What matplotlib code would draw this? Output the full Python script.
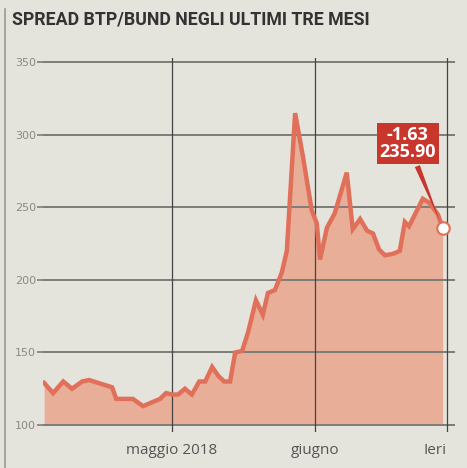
import matplotlib
matplotlib.use('Agg')
import matplotlib.pyplot as plt

# giorni dall'1 aprile 2018 (maggio = 30, giugno = 61)
days = [2.25, 4.2, 6.4, 8.3, 10.5, 12.0, 14.0, 17.0, 17.9, 21.5, 23.7, 25.9, 27.4, 28.7,
        30.0, 31.3, 32.8, 34.3, 35.9, 37.2, 38.7, 40.0, 41.3, 42.6, 43.7, 45.2, 46.5, 48.2,
        49.7, 50.8, 52.3, 53.8, 54.9, 56.7, 58.4, 60.3, 61.4, 62.1, 63.6, 65.3, 67.9, 69.2,
        70.8, 72.3, 73.6, 74.9, 76.2, 77.9, 79.4, 80.5, 81.4, 84.4, 85.9, 87.7, 88.7]
spread = [129, 122, 130, 125, 130, 131, 129, 126, 118, 118, 113, 116, 118, 122,
          121, 121, 125, 121, 130, 130, 140, 134, 130, 130, 150, 151, 164, 186,
          176, 191, 193, 205, 220, 315, 285, 248, 239, 214, 236, 246, 274, 235,
          242, 234, 232, 221, 217, 218, 220, 240, 237, 256, 253, 245, 235.9]

yticks = [100, 150, 200, 250, 300, 350]
xticks = [30, 61, 89.6]
xlabels = ['maggio 2018', 'giugno', 'Ieri']
variation = '-1.63'

bg = '#e4e3dc'
line_col = '#e0705a'
fill_col = '#e8ae98'

fig = plt.figure(figsize=(4.67, 4.68), dpi=100, facecolor=bg)
ax = fig.add_axes([0.092, 0.077, 0.882, 0.799])
ax.set_facecolor(bg)

ax.fill_between(days, spread, 100, color=fill_col, lw=0, zorder=1)
for y in yticks:
    ax.axhline(y, color='#7d7d78', lw=1.4, zorder=2)
for x in xticks:
    ax.axvline(x, color='#444444', lw=0.9, zorder=2)
ax.plot(days, spread, color=line_col, lw=3.2, solid_joinstyle='miter', zorder=3)
ax.plot(days[-1], spread[-1], 'o', ms=9, mfc='white', mec=line_col, mew=1.5, zorder=5)

ax.annotate(f'{variation}\n{spread[-1]:.2f}', xy=(days[-1], spread[-1]),
            xytext=(-25, 61), textcoords='offset points', ha='center', va='center',
            color='white', fontsize=13, fontweight='bold', family='Open Sans',
            linespacing=0.95,
            bbox=dict(boxstyle='square,pad=0.15', fc='#c8362c', ec='none'),
            arrowprops=dict(arrowstyle='wedge,tail_width=0.3,shrink_factor=0.5',
                            fc='#c8362c', ec='none', shrinkB=5), zorder=6)

ax.set_xlim(2.0, 91.35)
ax.set_ylim(95.2, 353)
ax.set_yticks(yticks)
ax.set_xticks(xticks)
ax.set_xticklabels(xlabels)
for s in ax.spines.values():
    s.set_visible(False)
ax.tick_params(axis='y', length=4, width=1.2, color='#7d7d78', labelcolor='#8a8a85',
               labelsize=8, pad=1)
ax.tick_params(axis='x', length=0, labelcolor='#555555', labelsize=11, pad=8)
for lab in ax.get_xticklabels():
    lab.set_family('Open Sans')
ax.get_xticklabels()[-1].set_ha('right')

fig.text(0.026, 0.958, 'SPREAD BTP/BUND NEGLI ULTIMI TRE MESI', fontsize=12.8,
         fontweight='bold', color='#333333', family=['Roboto', 'DejaVu Sans'],
         va='center', ha='left')
fig.add_artist(plt.Line2D([0.011, 0.011], [0.0, 0.98], color='#9a9a95', lw=1.2))

fig.savefig('out.png', dpi=100, facecolor=bg)
